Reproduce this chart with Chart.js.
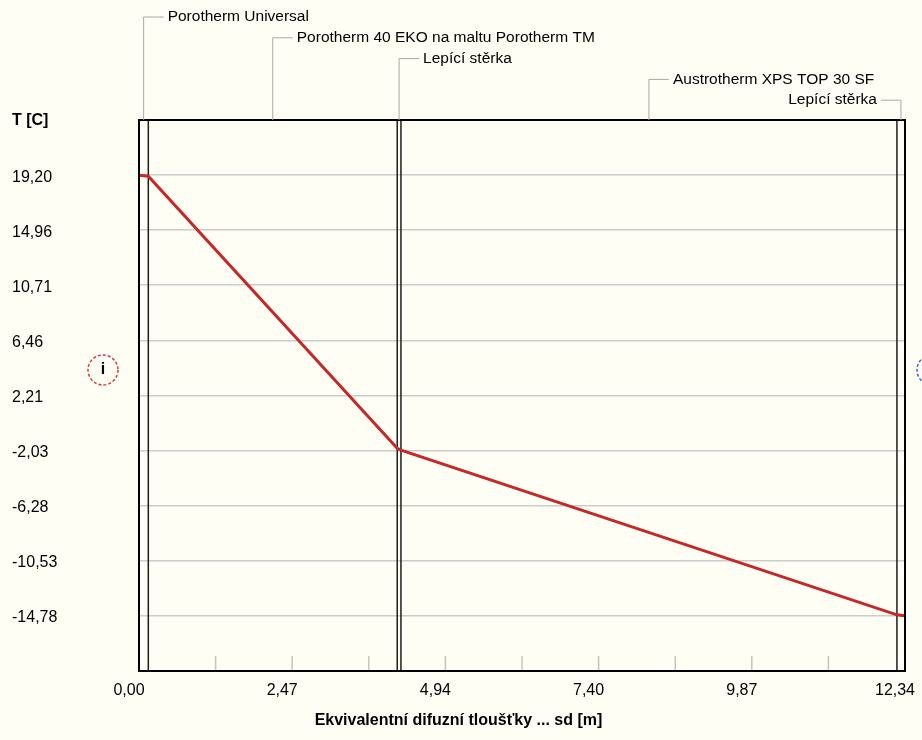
<!DOCTYPE html>
<html>
<head>
<meta charset="utf-8">
<script src="https://cdn.jsdelivr.net/npm/chart.js@4.4.1/dist/chart.umd.min.js"></script>
<style>
html, body { margin: 0; padding: 0; background: #fefef4; }
#wrap { width: 922px; height: 740px; }
</style>
</head>
<body>
<div id="wrap"><canvas id="graf" width="922" height="740"></canvas></div>
<script>
// prubeh teploty: ekvivalentni difuzni tloustka sd [m] -> T [C]
const sd = [0, 0.15, 4.16, 4.22, 12.21, 12.34]
const teplota = [19.20, 19.12, -1.86, -2.00, -14.70, -14.78]

// rozhrani vrstev (sd) a nazvy vrstev
const rozhrani = [0, 0.15, 4.16, 4.22, 12.21, 12.34]
const vrstvy = [
    'Porotherm Universal',
    'Porotherm 40 EKO na maltu Porotherm TM',
    'Lepící stěrka',
    'Austrotherm XPS TOP 30 SF',
    'Lepící stěrka'
]

// osy
const xTicks = [0, 2.468, 4.936, 7.404, 9.872, 12.34]
const xTickLabels = ['0,00', '2,47', '4,94', '7,40', '9,87', '12,34']
const xMinorTicks = [1.234, 3.702, 6.17, 8.638, 11.106]
const yTicks = [19.20, 14.96, 10.71, 6.46, 2.21, -2.03, -6.28, -10.53, -14.78]
const yMin = -19.03
const yMax = 23.45

const FONT = "'Liberation Sans', Arial, sans-serif"

const vrstvyPlugin = {
    id: 'vrstvy',
    beforeDatasetsDraw(chart) {
        const {ctx, chartArea: a, scales: {x}} = chart
        ctx.save()
        // male znacky na ose x (dovnitr)
        ctx.strokeStyle = '#c4c4c4'
        ctx.lineWidth = 1.5
        x.ticks.forEach((t, i) => {
            let px = x.getPixelForTick(i)
            ctx.beginPath()
            ctx.moveTo(px, a.bottom)
            ctx.lineTo(px, a.bottom - 15)
            ctx.stroke()
        })
        // rozhrani vrstev
        ctx.strokeStyle = '#1e1e1e'
        ctx.lineWidth = 1.5
        rozhrani.forEach(v => {
            let px = x.getPixelForValue(v)
            ctx.beginPath()
            ctx.moveTo(px, a.top)
            ctx.lineTo(px, a.bottom)
            ctx.stroke()
        })
        ctx.restore()
    },
    afterDatasetsDraw(chart) {
        const {ctx, chartArea: a} = chart
        ctx.save()
        ctx.strokeStyle = '#000'
        ctx.lineWidth = 2
        ctx.strokeRect(a.left, a.top, a.right - a.left, a.bottom - a.top)
        ctx.restore()
    },
    afterDraw(chart) {
        const {ctx, chartArea: a, scales: {x}} = chart
        ctx.save()
        ctx.font = '15.5px ' + FONT
        ctx.textBaseline = 'middle'
        ctx.fillStyle = '#000'
        vrstvy.forEach((name, i) => {
            let px = (x.getPixelForValue(rozhrani[i]) + x.getPixelForValue(rozhrani[i + 1])) / 2
            let py = 17 + i * 20.8
            let w = ctx.measureText(name).width
            let left = px + 24 + w > chart.width - 8
            ctx.strokeStyle = '#a8a8a8'
            ctx.lineWidth = 1
            ctx.beginPath()
            ctx.moveTo(px, a.top)
            ctx.lineTo(px, py)
            ctx.lineTo(left ? px - 20 : px + 20, py)
            ctx.stroke()
            ctx.textAlign = left ? 'right' : 'left'
            ctx.fillText(name, left ? px - 24 : px + 24, py)
        })

        // popis osy y
        ctx.font = 'bold 16px ' + FONT
        ctx.textAlign = 'left'
        ctx.fillText('T [C]', 12, 121)

        // interier / exterier
        ctx.setLineDash([3, 2])
        ctx.lineWidth = 1.5
        ctx.strokeStyle = '#d04040'
        ctx.beginPath()
        ctx.arc(103, 370, 15, 0, Math.PI * 2)
        ctx.stroke()
        ctx.strokeStyle = '#4060d0'
        ctx.beginPath()
        ctx.arc(932, 370, 15, 0, Math.PI * 2)
        ctx.stroke()
        ctx.setLineDash([])
        ctx.textAlign = 'center'
        ctx.fillText('i', 103, 370)
        ctx.fillText('e', 932, 370)
        ctx.restore()
    }
}

new Chart(document.getElementById('graf'), {
    type: 'line',
    data: {
        datasets: [{
            data: sd.map((v, i) => ({x: v, y: teplota[i]})),
            borderColor: '#c62828',
            borderWidth: 3,
            pointRadius: 0,
            tension: 0,
            fill: false,
            clip: 0
        }]
    },
    options: {
        responsive: false,
        animation: false,
        devicePixelRatio: 1,
        layout: {padding: {left: 12, top: 120, right: 17, bottom: 0}},
        plugins: {
            legend: {display: false},
            tooltip: {enabled: false},
            title: {
                display: true,
                position: 'bottom',
                text: 'Ekvivalentní difuzní tloušťky ... sd [m]',
                color: '#000',
                font: {family: FONT, size: 16, weight: 'bold'},
                padding: {top: 0, bottom: 10}
            }
        },
        scales: {
            x: {
                type: 'linear',
                min: 0,
                max: 12.34,
                afterBuildTicks(scale) {
                    scale.ticks = xTicks.concat(xMinorTicks).sort((p, q) => p - q).map(v => ({value: v}))
                },
                afterFit(scale) {
                    scale.height = 39.8
                    scale.paddingLeft = 0
                    scale.paddingRight = 0
                },
                grid: {display: false, drawTicks: false},
                border: {display: false},
                ticks: {
                    autoSkip: false,
                    maxRotation: 0,
                    padding: 10,
                    labelOffset: -10,
                    color: '#000',
                    font: {family: FONT, size: 16},
                    callback(value) {
                        let i = xTicks.indexOf(value)
                        return i >= 0 ? xTickLabels[i] : ''
                    }
                }
            },
            y: {
                min: yMin,
                max: yMax,
                afterBuildTicks(scale) {
                    scale.ticks = yTicks.map(v => ({value: v}))
                },
                afterFit(scale) {
                    scale.width = 127
                    scale.paddingTop = 0
                    scale.paddingBottom = 0
                },
                grid: {color: '#cccccc', lineWidth: 1.5, drawTicks: false},
                border: {display: false},
                ticks: {
                    crossAlign: 'far',
                    padding: 0,
                    labelOffset: 2,
                    color: '#000',
                    font: {family: FONT, size: 16},
                    callback: v => v.toFixed(2).replace('.', ',')
                }
            }
        }
    },
    plugins: [vrstvyPlugin]
})
</script>
</body>
</html>
